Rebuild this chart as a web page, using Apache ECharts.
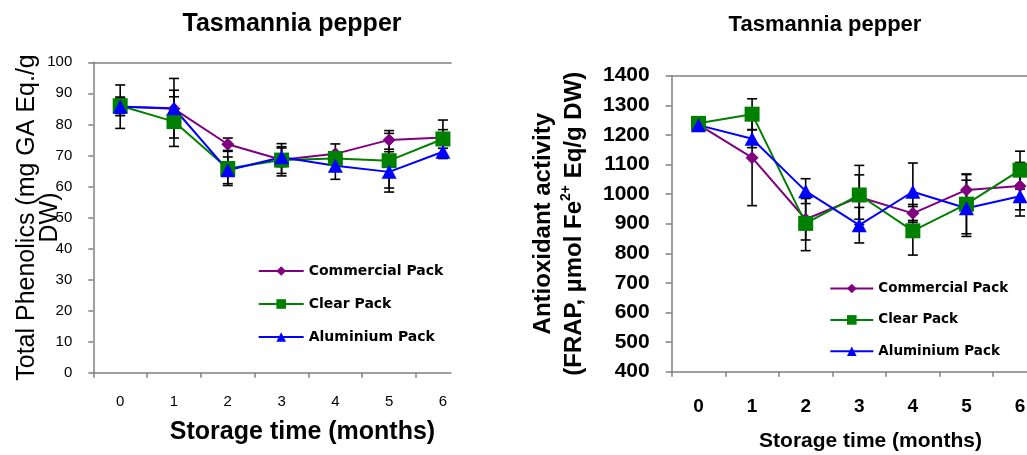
<!DOCTYPE html>
<html>
<head>
<meta charset="utf-8">
<script src="https://cdn.jsdelivr.net/npm/echarts@6/dist/echarts.min.js"></script>
<style>html,body{margin:0;padding:0;background:#fff;}#c{width:1027px;height:455px;}</style>
</head>
<body>
<div id="c"></div>
<script>
// ---- data ----
const months = [0, 1, 2, 3, 4, 5, 6];
const seriesNames = ['Commercial Pack', 'Clear Pack', 'Aluminium Pack'];

// Total phenolics (mg GA Eq./g DW)
const tpCommercial = [85.8, 85.0, 73.6, 68.6, 70.5, 75.0, 75.8];
const tpClear      = [86.0, 80.9, 65.8, 68.5, 69.0, 68.3, 75.3];
const tpAluminium  = [85.7, 85.2, 65.2, 69.4, 66.7, 64.7, 71.2];
const tpCommercialErr = [3.0, 6.0, 2.0, 5.2, 3.2, 3.0, 5.6];
const tpClearErr      = [2.5, 8.0, 5.5, 4.3, 2.0, 8.8, 3.0];
const tpAluminiumErr  = [7.0, 9.6, 4.3, 3.0, 4.4, 6.5, 2.2];

// Antioxidant activity (FRAP)
const frCommercial = [1235, 1123, 915, 990, 935, 1014, 1027];
const frClear      = [1239, 1270, 901, 997, 876, 966, 1081];
const frAluminium  = [1233, 1187, 1010, 895, 1008, 952, 993];
const frCommercialErr = [10, 162, 70, 75, 30, 54, 80];
const frClearErr      = [10, 52, 92, 100, 82, 100, 64];
const frAluminiumErr  = [10, 30, 42, 60, 97, 95, 67];

const xTickValues = [-0.5, 0.5, 1.5, 2.5, 3.5, 4.5, 5.5];
const tpTicks = {min: 0, max: 100, interval: 10};
const frTicks = {min: 400, max: 1400, interval: 100};

// ---- styles ----
const colors = ['#800080', '#008000', '#0000ff'];
const symbols = ['diamond', 'rect', 'triangle'];
const symbolSizes = [13, 15, [15, 14]];
const axisGray = '#808080';
const FONT = 'Liberation Sans';

function pairs(vals) { return months.map((m, i) => [m, vals[i]]); }
function errData(vals, errs) { return months.map((m, i) => [m, vals[i] - errs[i], vals[i] + errs[i]]); }

function errRender(params, api) {
  const x = api.value(0), lo = api.value(1), hi = api.value(2);
  const t = api.coord([x, hi]), b = api.coord([x, lo]);
  const w = 5;
  const st = {stroke: '#000', lineWidth: 1.6};
  return {type: 'group', children: [
    {type: 'line', shape: {x1: t[0], y1: t[1], x2: b[0], y2: b[1]}, style: st},
    {type: 'line', shape: {x1: t[0] - w, y1: t[1], x2: t[0] + w, y2: t[1]}, style: st},
    {type: 'line', shape: {x1: b[0] - w, y1: b[1], x2: b[0] + w, y2: b[1]}, style: st}
  ]};
}

function xAxisMain(grid, max, fs, weight, margin) {
  return {
    type: 'value', gridIndex: grid, min: -0.5, max: max, position: 'bottom',
    axisLine: {show: true, onZero: false, lineStyle: {color: axisGray, width: 1.5}},
    axisTick: {show: true, length: 5, customValues: xTickValues, lineStyle: {color: axisGray, width: 1.5}},
    axisLabel: {show: true, customValues: months, margin: margin, fontFamily: FONT, fontSize: fs, fontWeight: weight, color: '#000'},
    splitLine: {show: false}
  };
}
function xAxisTop(grid, max) {
  return {
    type: 'value', gridIndex: grid, min: -0.5, max: max, position: 'top',
    axisLine: {show: true, onZero: false, lineStyle: {color: axisGray, width: 1.5}},
    axisTick: {show: false}, axisLabel: {show: false}, splitLine: {show: false}
  };
}

const lineSeries = [];
const errSeries = [];
function addChart(vals, errs, xi, yi) {
  vals.forEach((v, k) => {
    errSeries.push({
      type: 'custom', name: 'err' + xi + '_' + k, xAxisIndex: xi, yAxisIndex: yi,
      renderItem: errRender, encode: {x: 0, y: [1, 2]}, data: errData(v, errs[k]), z: 1, silent: true
    });
    lineSeries.push({
      type: 'line', name: seriesNames[k], xAxisIndex: xi, yAxisIndex: yi,
      data: pairs(v), symbol: symbols[k], symbolSize: symbolSizes[k],
      lineStyle: {color: colors[k], width: 2}, itemStyle: {color: colors[k]}, z: 3
    });
  });
}
addChart([tpCommercial, tpClear, tpAluminium], [tpCommercialErr, tpClearErr, tpAluminiumErr], 0, 0);
addChart([frCommercial, frClear, frAluminium], [frCommercialErr, frClearErr, frAluminiumErr], 2, 1);

const plain = v => String(v);

const option = {
  animation: false,
  backgroundColor: '#fff',
  grid: [
    {left: 93.3, top: 62.3, width: 357.7, height: 310.4, outerBoundsMode: 'none', containLabel: false},
    {left: 671.7, top: 75.7, width: 355.3, height: 296, outerBoundsMode: 'none', containLabel: false}
  ],
  xAxis: [
    xAxisMain(0, 6.15, 15, 'normal', 21.5),
    xAxisTop(0, 6.15),
    xAxisMain(1, 6.13, 19, 'bold', 25.5),
    xAxisTop(1, 6.13)
  ],
  yAxis: [
    {
      type: 'value', gridIndex: 0, min: tpTicks.min, max: tpTicks.max, interval: tpTicks.interval,
      axisLine: {show: true, onZero: false, lineStyle: {color: axisGray, width: 1.5}},
      axisTick: {show: true, length: 5, lineStyle: {color: axisGray, width: 1.5}},
      axisLabel: {margin: 21, fontFamily: FONT, fontSize: 15, color: '#000', formatter: plain},
      splitLine: {show: false},
      name: 'Total Phenolics (mg GA Eq./g\nDW)', nameLocation: 'middle', nameGap: 32, nameMoveOverlap: false,
      nameTextStyle: {fontFamily: FONT, fontSize: 25, color: '#000', lineHeight: 23}
    },
    {
      type: 'value', gridIndex: 1, min: frTicks.min, max: frTicks.max, interval: frTicks.interval,
      axisLine: {show: true, onZero: false, lineStyle: {color: axisGray, width: 1.5}},
      axisTick: {show: true, length: 6, lineStyle: {color: axisGray, width: 1.5}},
      axisLabel: {margin: 22, fontFamily: FONT, fontSize: 21, fontWeight: 'bold', color: '#000', formatter: plain},
      splitLine: {show: false},
      name: 'Antioxidant activity\n(FRAP, µmol Fe{sup|2+} Eq/g DW)', nameLocation: 'middle', nameGap: 82, nameMoveOverlap: false,
      nameTextStyle: {
        fontFamily: FONT, fontSize: 24, fontWeight: 'bold', color: '#000', lineHeight: 31,
        rich: {sup: {fontFamily: FONT, fontSize: 14, fontWeight: 'bold', color: '#000', lineHeight: 14, verticalAlign: 'top'}}
      }
    }
  ],
  legend: [
    {
      data: seriesNames, orient: 'vertical', left: 257.7, top: 264, padding: 0,
      itemWidth: 45, itemHeight: 12, itemGap: 19, selectedMode: false,
      textStyle: {fontFamily: 'DejaVu Sans', fontWeight: 'bold', fontSize: 14, color: '#000'}
    },
    {
      data: seriesNames, orient: 'vertical', left: 829.3, top: 281.5, padding: 0,
      itemWidth: 43, itemHeight: 12, itemGap: 17.4, selectedMode: false,
      textStyle: {fontFamily: 'DejaVu Sans', fontWeight: 'bold', fontSize: 13.5, color: '#000'}
    }
  ],
  graphic: [
    {type: 'text', x: 292, y: 24.5, style: {text: 'Tasmannia pepper', fontFamily: FONT, fontSize: 25, fontWeight: 'bold', fill: '#000', align: 'center', verticalAlign: 'middle'}},
    {type: 'text', x: 825, y: 25, style: {text: 'Tasmannia pepper', fontFamily: FONT, fontSize: 22, fontWeight: 'bold', fill: '#000', align: 'center', verticalAlign: 'middle'}},
    {type: 'text', x: 302.5, y: 431.7, style: {text: 'Storage time (months)', fontFamily: FONT, fontSize: 25, fontWeight: 'bold', fill: '#000', align: 'center', verticalAlign: 'middle'}},
    {type: 'text', x: 870.5, y: 441.7, style: {text: 'Storage time (months)', fontFamily: FONT, fontSize: 21, fontWeight: 'bold', fill: '#000', align: 'center', verticalAlign: 'middle'}}
  ],
  series: errSeries.concat(lineSeries)
};

const chart = echarts.init(document.getElementById('c'), null, {renderer: 'canvas'});
chart.setOption(option);
</script>
</body>
</html>
